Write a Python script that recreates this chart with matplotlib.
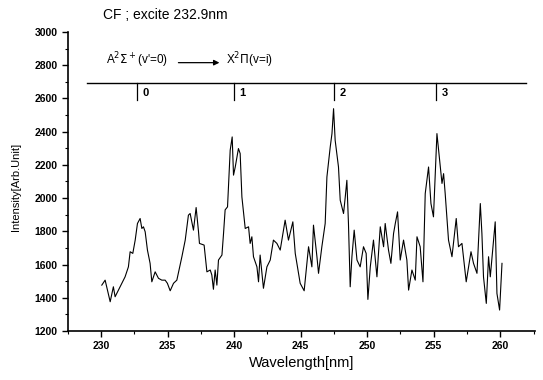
import matplotlib.pyplot as plt
from matplotlib.ticker import MultipleLocator

# CF emission spectrum, excitation at 232.9 nm
wavelength = [
    230.05, 230.30, 230.68, 230.92, 231.05, 231.30, 231.68, 231.80, 232.05, 232.18,
    232.38, 232.56, 232.73, 232.93, 233.06, 233.18, 233.31, 233.48, 233.68, 233.81,
    234.06, 234.31, 234.56, 234.81, 234.98, 235.19, 235.44, 235.69, 236.07, 236.32,
    236.56, 236.69, 236.94, 237.14, 237.32, 237.39, 237.74, 237.95, 238.20, 238.32,
    238.44, 238.57, 238.70, 238.82, 239.08, 239.20, 239.32, 239.50, 239.70, 239.85,
    239.95, 240.08, 240.32, 240.45, 240.58, 240.83, 241.08, 241.20, 241.33, 241.45,
    241.71, 241.83, 241.95, 242.20, 242.46, 242.71, 242.95, 243.21, 243.46, 243.83,
    244.08, 244.41, 244.59, 244.96, 245.26, 245.59, 245.84, 245.96, 246.22, 246.34,
    246.59, 246.84, 246.97, 247.22, 247.35, 247.47, 247.59, 247.84, 247.97, 248.22,
    248.35, 248.47, 248.59, 248.72, 248.85, 249.02, 249.23, 249.47, 249.72, 249.92,
    250.05, 250.23, 250.47, 250.73, 250.98, 251.23, 251.35, 251.60, 251.78, 251.98,
    252.11, 252.28, 252.48, 252.73, 252.98, 253.11, 253.36, 253.61, 253.74, 253.98,
    254.19, 254.36, 254.61, 254.79, 254.98, 255.24, 255.49, 255.62, 255.74, 255.86,
    256.11, 256.37, 256.69, 256.86, 257.12, 257.44, 257.80, 257.99, 258.25, 258.50,
    258.62, 258.74, 258.95, 259.12, 259.25, 259.50, 259.62, 259.75, 259.95, 260.13,
]
intensity = [
    1476, 1506, 1376, 1466, 1406, 1446, 1506, 1526, 1586, 1677,
    1667, 1747, 1847, 1877, 1817, 1827, 1797, 1687, 1607, 1496,
    1556, 1517, 1506, 1506, 1487, 1442, 1487, 1506, 1647, 1747,
    1897, 1907, 1807, 1943, 1797, 1727, 1717, 1556, 1567, 1537,
    1451, 1567, 1476, 1627, 1657, 1787, 1929, 1947, 2288, 2368,
    2138, 2187, 2298, 2268, 2007, 1817, 1827, 1727, 1767, 1647,
    1586, 1496, 1657, 1457, 1586, 1627, 1747, 1727, 1687, 1867,
    1747, 1857, 1667, 1487, 1442, 1707, 1586, 1837, 1647, 1547,
    1707, 1847, 2127, 2308, 2388, 2538, 2348, 2187, 1987, 1907,
    2007, 2107, 1847, 1466, 1647, 1807, 1627, 1586, 1707, 1667,
    1390, 1586, 1747, 1526, 1827, 1707, 1847, 1687, 1607, 1787,
    1847, 1917, 1627, 1747, 1627, 1446, 1567, 1506, 1767, 1707,
    1496, 2027, 2187, 1967, 1887, 2388, 2187, 2088, 2147, 2027,
    1747, 1647, 1877, 1707, 1727, 1496, 1677, 1607, 1547, 1967,
    1787, 1526, 1366, 1647, 1526, 1747, 1857, 1426, 1326, 1607,
]

# vibrational band positions A2S+(v'=0) -> X2P(v=i)
band_pos = [232.7, 240.0, 247.5, 255.2]
band_labels = ['0', '1', '2', '3']

plt.rcParams['font.family'] = ['Liberation Sans', 'DejaVu Sans']

fig = plt.figure(figsize=(5.43, 3.80), dpi=100)
ax = fig.add_axes([0.125, 0.129, 0.86, 0.787])

ax.plot(wavelength, intensity, color='black', linewidth=0.8)

ax.set_xlim(227.5, 262.6)
ax.set_ylim(1200, 3000)
ax.xaxis.set_major_locator(MultipleLocator(5))
ax.xaxis.set_minor_locator(MultipleLocator(2.5))
ax.yaxis.set_major_locator(MultipleLocator(200))
ax.yaxis.set_minor_locator(MultipleLocator(100))
ax.tick_params(which='major', direction='out', length=4, width=1, labelsize=7.5)
ax.tick_params(which='minor', direction='out', length=2, width=0.8)
for lbl in ax.get_xticklabels() + ax.get_yticklabels():
    lbl.set_fontweight('bold')

for side in ['top', 'right']:
    ax.spines[side].set_visible(False)
for side in ['left', 'bottom']:
    ax.spines[side].set_linewidth(1.2)

ax.set_xlabel('Wavelength[nm]', fontsize=10.5, labelpad=3)
ax.set_ylabel('Intensity[Arb.Unit]', fontsize=8,
              family=['Liberation Sans Narrow', 'Liberation Sans'])
ax.yaxis.set_label_coords(-0.1, 0.48)

# band marker line with ticks
ax.plot([228.9, 261.9], [2695, 2695], color='black', linewidth=1.0, clip_on=False)
for pos, lab in zip(band_pos, band_labels):
    ax.plot([pos, pos], [2695, 2590], color='black', linewidth=0.9)
    ax.text(pos + 0.4, 2635, lab, fontsize=8, fontweight='bold', va='center', ha='left')

ax.text(230.4, 2830, "A$^2\\Sigma^+$(v'=0)", fontsize=8.5, va='center', ha='left')
ax.annotate('', xy=(239.1, 2815), xytext=(235.6, 2815),
            arrowprops=dict(arrowstyle='-|>', color='black', lw=0.9, mutation_scale=8))
ax.text(239.4, 2830, "X$^2\\Pi$(v=i)", fontsize=8.5, va='center', ha='left')

fig.text(0.19, 0.96, 'CF ; excite 232.9nm', fontsize=10, va='center', ha='left')

fig.savefig('out.png', dpi=100)
